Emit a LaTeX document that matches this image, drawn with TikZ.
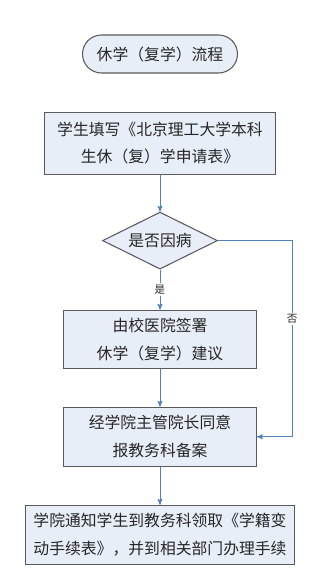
\documentclass[tikz,border=0pt]{standalone}
\usepackage{fontspec}
\newfontfamily\cjk{Noto Sans CJK SC}
\usetikzlibrary{positioning}
\usetikzlibrary{arrows}
\usetikzlibrary{shapes.geometric}
\definecolor{boxfill}{HTML}{E8EEF7}
\definecolor{boxline}{HTML}{5A5A5A}
\definecolor{arrowblue}{HTML}{4F81BD}
\tikzset{
    node distance=1.14cm,
    every node/.append style={
        font=\cjk\fontsize{13.5}{23.8}\selectfont,
        text=black!85
    },
    stepbox/.style={
        draw=boxline,
        line width=0.9pt,
        fill=boxfill,
        align=center,
        inner sep=0pt
    },
    startbox/.style={
        stepbox,
        rounded corners=0.57cm,
        minimum width=4.65cm,
        minimum height=1.14cm
    },
    decision/.style={
        stepbox,
        diamond,
        aspect=2,
        minimum width=3.45cm,
        minimum height=1.71cm
    },
    flow/.style={
        draw=arrowblue,
        line width=0.8pt,
        ->,>=stealth'
    },
    flowlabel/.style={
        font=\cjk\fontsize{9}{10}\selectfont,
        fill=white,
        inner sep=1.5pt
    }
}

\begin{document}
\begin{tikzpicture}
                \useasboundingbox (0,0) rectangle (9.6,-17.49);
                \node[startbox] (start) at (4.8,-1.62) {休学（复学）流程};
                \node[stepbox, below=of start, minimum width=6.93cm, minimum height=1.86cm] (apply) {学生填写《北京理工大学本科\\生休（复）学申请表》};
                \node[decision, below=1.11cm of apply] (ill) {是否因病};
                \node[stepbox, below=1.2cm of ill, minimum width=5.79cm, minimum height=1.74cm] (hosp) {由校医院签署\\休学（复学）建议};
                \node[stepbox, below=of hosp, minimum width=5.79cm, minimum height=1.77cm] (dean) {经学院主管院长同意\\报教务科备案};
                \node[stepbox, below=of dean, minimum width=8.07cm, minimum height=1.77cm] (notify) {学院通知学生到教务科领取《学籍变\\动手续表》，并到相关部门办理手续};

                \draw[flow] (apply) -- (ill);
                \draw[flow] (ill) -- node[flowlabel] {是} (hosp);
                \draw[flow] (ill.east) -- ++(2.22cm,0) |- node[flowlabel, pos=0.2] {否} (dean.east);
                \draw[flow] (hosp) -- (dean);
                \draw[flow] (dean) -- (notify);
            \end{tikzpicture}
\end{document}
